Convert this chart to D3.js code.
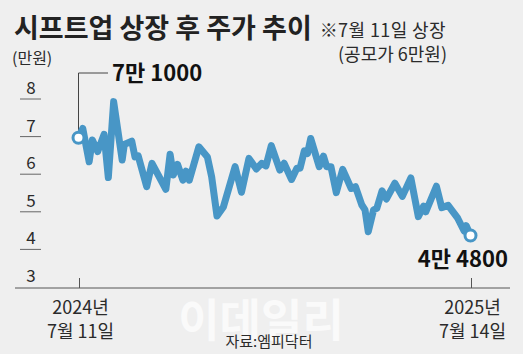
<!DOCTYPE html>
<html>
<head>
<meta charset="utf-8">
<script src="https://cdn.jsdelivr.net/npm/d3@7"></script>
<style>
  html, body { margin: 0; padding: 0; background: #efefef; }
  svg { display: block; font-family: "Noto Sans CJK KR", "Noto Sans", sans-serif; }
</style>
</head>
<body>
<div id="chart"></div>
<script>
// Shift Up share price after listing (unit: 10,000 won).
// days = calendar days after the 2024-07-11 listing, price.
const days = [0, 4, 10, 13, 18, 24, 28, 33, 41, 43, 50, 53, 56, 64, 69, 82, 86, 89, 93, 98,
  101, 104, 113, 121, 125, 130, 136, 147, 153, 160, 167, 172, 176, 181, 189, 193, 200, 205,
  208, 212, 215, 218, 226, 230, 233, 237, 242, 248, 256, 260, 266, 269, 272, 277, 280, 285,
  289, 297, 304, 312, 319, 324, 326, 336, 341, 347, 356, 362, 364, 368];
const prices = [6.97, 7.22, 6.33, 6.91, 6.60, 7.06, 5.91, 7.93, 6.38, 6.79, 6.88, 6.46, 6.49,
  5.67, 6.29, 5.60, 6.53, 5.98, 6.26, 5.84, 6.08, 5.84, 6.73, 6.46, 5.93, 4.89, 5.13, 6.20,
  5.52, 6.42, 6.14, 6.29, 6.22, 6.76, 6.11, 6.29, 5.86, 6.16, 6.16, 6.62, 6.55, 6.95, 6.20,
  6.48, 6.20, 6.20, 5.51, 6.13, 5.62, 5.67, 5.18, 5.05, 4.47, 5.05, 5.09, 5.56, 5.34, 5.76,
  5.41, 5.90, 4.87, 5.15, 5.00, 5.68, 5.11, 5.17, 4.83, 4.49, 4.63, 4.37];
const yTicks = [3, 4, 5, 6, 7, 8];
const xTickLabels = [["2024년", "7월 11일"], ["2025년", "7월 14일"]];
const startLabel = "7만 1000";
const endLabel = "4만 4800";

const W = 523, H = 354;
const LINE = "#4896c6", INK = "#2b2b2b";
const start = new Date(2024, 6, 11), end = new Date(2025, 6, 14);
const data = days.map((d, i) => ({ date: d3.timeDay.offset(start, d), v: prices[i] }));

const x = d3.scaleTime([start, end], [78.5, 470.5]);
const y = d3.scaleLinear([3, 8], [287, 99]);

const svg = d3.select("#chart").append("svg").attr("width", W).attr("height", H);
svg.append("rect").attr("width", W).attr("height", H).attr("fill", "#efefef");

// watermark
svg.append("text").attr("x", 261).attr("y", 337).attr("text-anchor", "middle")
  .attr("font-size", 45).attr("font-weight", "bold").attr("fill", "#fff").attr("opacity", 0.7)
  .text("이데일리");

// title + note
svg.append("text").attr("x", 14).attr("y", 38).attr("font-size", 27).attr("font-weight", "bold")
  .attr("fill", "#222").text("시프트업 상장 후 주가 추이");
svg.append("text").attr("x", 446).attr("y", 37).attr("text-anchor", "end").attr("font-size", 18)
  .attr("letter-spacing", 0.4).attr("fill", INK).text("※7월 11일 상장");
svg.append("text").attr("x", 447).attr("y", 61).attr("text-anchor", "end").attr("font-size", 18)
  .attr("fill", INK).text("(공모가 6만원)");
svg.append("text").attr("x", 12).attr("y", 64).attr("font-size", 16).attr("fill", INK).text("(만원)");

// y axis: labels sitting on short tick lines
const yg = svg.append("g");
yg.selectAll("line").data(yTicks.filter((t) => t > 3)).join("line")
  .attr("x1", 20).attr("x2", 41).attr("y1", (d) => y(d)).attr("y2", (d) => y(d))
  .attr("stroke", "#666").attr("stroke-width", 1);
yg.selectAll("text").data(yTicks).join("text")
  .attr("x", 31).attr("y", (d) => y(d) - 5).attr("text-anchor", "middle")
  .attr("font-size", 17).attr("fill", INK).text((d) => d);

// x axis
svg.append("line").attr("x1", 15).attr("x2", 510).attr("y1", y(3) + 1).attr("y2", y(3) + 1)
  .attr("stroke", "#555").attr("stroke-width", 1);
const xDates = [start, end];
const xg = svg.append("g");
xg.selectAll("line").data(xDates).join("line")
  .attr("x1", (d) => x(d) + 1).attr("x2", (d) => x(d) + 1).attr("y1", y(3) - 9).attr("y2", y(3) + 1)
  .attr("stroke", "#555");
xDates.forEach((d, i) => {
  xg.append("text").attr("x", x(d) + 2).attr("y", 314).attr("text-anchor", "middle")
    .attr("font-size", 18).attr("fill", INK).text(xTickLabels[i][0]);
  xg.append("text").attr("x", x(d) + 2).attr("y", 338).attr("text-anchor", "middle")
    .attr("font-size", 18).attr("fill", INK).text(xTickLabels[i][1]);
});

svg.append("text").attr("x", 269).attr("y", 347).attr("text-anchor", "middle")
  .attr("font-size", 15).attr("fill", INK).text("자료:엠피닥터");

// leader for the first point
const p0 = data[0], pN = data[data.length - 1];
svg.append("path")
  .attr("d", `M${x(p0.date)},${y(p0.v) - 5} V73 H108`)
  .attr("fill", "none").attr("stroke", "#444").attr("stroke-width", 1);
svg.append("text").attr("x", 112).attr("y", 81).attr("font-size", 22).attr("font-weight", "bold")
  .attr("fill", "#111").text(startLabel);

// price line
svg.append("path").datum(data)
  .attr("d", d3.line().x((d) => x(d.date)).y((d) => y(d.v)))
  .attr("fill", "none").attr("stroke", LINE).attr("stroke-width", 7)
  .attr("stroke-linejoin", "round").attr("stroke-linecap", "round");

svg.selectAll("circle.end").data([p0, pN]).join("circle").attr("class", "end")
  .attr("cx", (d) => x(d.date)).attr("cy", (d) => y(d.v)).attr("r", 5.5)
  .attr("fill", "#fff").attr("stroke", LINE).attr("stroke-width", 3);

svg.append("text").attr("x", 508).attr("y", 267).attr("text-anchor", "end").attr("font-size", 22)
  .attr("font-weight", "bold").attr("fill", "#111").text(endLabel);
</script>
</body>
</html>
